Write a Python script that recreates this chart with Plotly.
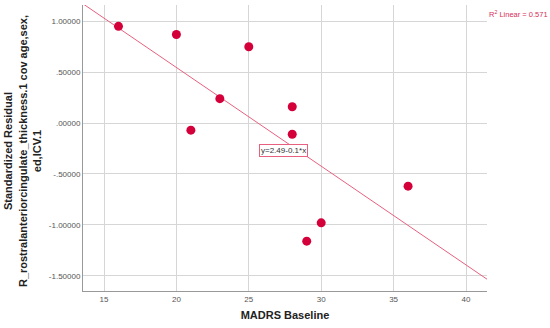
import numpy as np
import plotly.graph_objects as go

madrs = [16, 20, 21, 23, 25, 28, 28, 29, 30, 36]
resid = [0.95, 0.87, -0.07, 0.24, 0.75, 0.16, -0.11, -1.16, -0.98, -0.62]

y_tickvals = [1.0, 0.5, 0.0, -0.5, -1.0, -1.5]
y_ticktext = ["1.00000", ".50000", ".00000", "-.50000", "-1.00000", "-1.50000"]
x_tickvals = [15, 20, 25, 30, 35, 40]

x_range = [13.55, 41.45]
y_range = [-1.65, 1.16]

slope, intercept = np.polyfit(madrs, resid, 1)

line_x = np.array(x_range)
line_y = intercept + slope * line_x

fig = go.Figure()
fig.add_trace(go.Scatter(x=line_x, y=line_y, mode="lines",
                         line=dict(color="#e8607f", width=1), hoverinfo="skip"))
fig.add_trace(go.Scatter(x=madrs, y=resid, mode="markers",
                         marker=dict(color="#d4003a", size=9)))

fig.add_annotation(x=27.4, y=-0.265, xref="x", yref="y",
                   text="y=%.2f-%.1f*x" % (intercept, abs(slope)), showarrow=False,
                   font=dict(family="Liberation Sans", size=8, color="#333333"),
                   bgcolor="white", bordercolor="#e8607f", borderwidth=1, borderpad=1)
fig.add_annotation(x=1.0, y=0.969, xref="paper", yref="paper", xanchor="left", yanchor="middle",
                   text="R<sup>2</sup> Linear = 0.571", showarrow=False,
                   font=dict(family="Liberation Sans", size=7.5, color="#d4305a"))
fig.add_annotation(x=-0.148, y=0.49, xref="paper", yref="paper", xanchor="center", yanchor="middle",
                   textangle=-90, showarrow=False, align="center",
                   text="<b>Standardized Residual<br>R_rostralanteriorcingulate_thickness.1 cov age,sex,<br>ed,ICV.1</b>",
                   font=dict(family="Liberation Sans", size=11, color="#222222"))

fig.update_layout(
    width=550, height=328,
    margin=dict(l=83, r=63, t=5, b=37),
    paper_bgcolor="white", plot_bgcolor="white",
    showlegend=False,
    font=dict(family="Liberation Sans", size=8, color="#555555"),
    xaxis=dict(range=x_range, tickvals=x_tickvals, showgrid=True, gridcolor="#d6d6d6",
               gridwidth=1, zeroline=False, showline=True, linecolor="#999999",
               ticks="", tickfont=dict(size=8, color="#555555"),
               title=dict(text="<b>MADRS Baseline</b>", standoff=8,
                          font=dict(family="Liberation Sans", size=11, color="#222222"))),
    yaxis=dict(range=y_range, tickvals=y_tickvals, ticktext=y_ticktext, showgrid=True,
               gridcolor="#d6d6d6", gridwidth=1, zeroline=False, showline=True,
               linecolor="#999999", ticks="", tickfont=dict(size=8, color="#555555")),
)

fig.write_html("out.html", config={"displayModeBar": False},
               post_script="document.body.style.margin='0px';")
